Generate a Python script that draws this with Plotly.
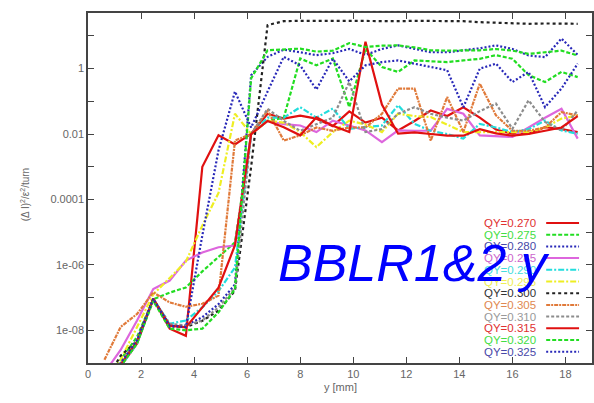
import plotly.graph_objects as go

# x positions (y [mm]) of the scan points
y_mm = [0.62, 1.23, 1.85, 2.46, 3.08, 3.69, 4.31, 4.92, 5.54, 6.15,
        6.77, 7.38, 8.0, 8.61, 9.23, 9.85, 10.46, 11.08, 11.69, 12.31,
        12.92, 13.54, 14.15, 14.77, 15.38, 16.0, 16.61, 17.23, 17.85, 18.46]

series_names = ["QY=0.270", "QY=0.275", "QY=0.280", "QY=0.285", "QY=0.290", "QY=0.295",
                "QY=0.300", "QY=0.305", "QY=0.310", "QY=0.315", "QY=0.320", "QY=0.325"]

# log10 of (dI)^2/eps^2/turn
log_qy270 = [-9.9, -9.1, -8.4, -7.04, -7.95, -8.17, -3.0, -2.04, -2.32, -1.99, -1.38, -1.53, -1.44, -1.53, -1.76,
             -1.31, -1.65, -1.5, -1.89, -1.6, -1.28, -1.45, -1.18, -1.5, -1.86, -1.99, -1.99, -1.79, -1.85, -1.94]
log_qy275 = [-9.5, -8.9, -8.2, -7.05, -6.85, -6.69, -6.2, -5.75, -5.31, -2.0, -1.6, -1.5, 0.31, 0.1, 0.31,
             -1.18, 0.6, 0.05, -0.1, 0.25, 0.22, 0.2, 0.25, 0.3, 0.41, 0.3, -0.2, -0.41, -0.1, -0.26]
log_qy280 = [-9.7, -9.05, -8.35, -7.04, -7.9, -7.85, -7.6, -7.2, -6.6, -0.2, 0.36, 0.58, 0.5, 0.41, 0.47,
             0.6, 0.42, 0.6, 0.71, 0.6, 0.5, 0.5, 0.55, 0.62, 0.71, 0.6, 0.4, 0.35, 0.92, 0.42]
log_qy285 = [-9.3, -8.6, -7.7, -6.74, -6.48, -5.87, -5.62, -5.46, -5.41, -2.0, -1.6, -1.7, -1.74, -1.94, -1.59,
             -1.75, -1.89, -2.25, -1.89, -1.9, -1.9, -1.23, -1.38, -2.04, -2.07, -2.09, -1.8, -1.5, -1.23, -2.14]
log_qy290 = [-9.8, -9.1, -8.4, -7.04, -7.8, -7.7, -7.3, -6.8, -6.08, -2.0, -1.5, -1.5, -1.18, -1.5, -1.22,
             -1.84, -1.8, -1.74, -1.12, -1.69, -1.9, -2.0, -2.14, -1.69, -1.8, -1.94, -1.85, -1.59, -1.89, -1.99]
log_qy295 = [-9.5, -8.9, -7.9, -6.9, -6.4, -5.9, -4.8, -3.8, -1.38, -2.0, -1.6, -1.65, -1.94, -2.4, -1.94,
             -1.59, -1.71, -1.94, -1.38, -1.45, -1.48, -1.7, -1.94, -1.94, -1.94, -1.94, -1.94, -1.8, -1.53, -1.43]
log_qy300 = [-9.6, -8.78, -8.33, -7.04, -7.86, -7.9, -7.71, -7.4, -6.79, -3.0, 1.33, 1.45, 1.46, 1.45, 1.46,
             1.46, 1.45, 1.46, 1.45, 1.46, 1.46, 1.45, 1.45, 1.42, 1.4, 1.38, 1.37, 1.38, 1.37, 1.37]
log_qy305 = [-8.9, -7.9, -7.5, -6.84, -7.15, -7.28, -7.19, -6.94, -2.2, -2.0, -1.28, -2.2, -2.04, -1.8, -1.9,
             -1.8, -1.8, -1.38, -0.61, -0.61, -2.2, -0.87, -1.94, -0.46, -1.43, -1.9, -1.9, -1.8, -1.33, -1.43]
log_qy310 = [-9.7, -9.0, -8.3, -7.04, -7.8, -7.85, -7.7, -7.3, -6.7, -2.0, -1.23, -1.6, -1.9, -1.7, -1.5,
             -0.41, -1.94, -1.85, -1.38, -1.18, -1.38, -1.5, -1.59, -1.3, -1.07, -1.84, -0.97, -1.63, -1.89, -1.28]
log_qy315 = [-9.8, -9.05, -8.35, -7.04, -7.86, -7.91, -7.3, -6.7, -5.4, -2.0, -1.6, -1.79, -2.04, -1.49, -1.75,
             -1.94, 0.82, -1.1, -1.99, -1.95, -2.0, -2.05, -2.05, -1.85, -1.98, -2.05, -2.0, -1.9, -1.8, -1.45]
log_qy320 = [-9.7, -9.1, -8.4, -7.1, -7.95, -8.0, -7.95, -7.45, -6.74, -0.3, 0.56, 0.58, 0.61, 0.52, 0.55,
             0.78, 0.66, 0.7, 0.71, 0.65, 0.56, 0.55, 0.55, 0.56, 0.6, 0.55, 0.45, 0.5, 0.55, 0.4]
log_qy325 = [-9.6, -9.0, -8.3, -7.04, -7.86, -7.9, -5.1, -2.5, -0.7, -1.8, -0.7, 0.36, 0.1, -0.64, 0.3,
             -0.39, 0.1, 0.2, 0.25, 0.15, 0.05, -0.05, -1.18, 0.0, 0.15, -0.41, -0.1, -1.18, -0.61, 0.15]

all_logs = [log_qy270, log_qy275, log_qy280, log_qy285, log_qy290, log_qy295,
            log_qy300, log_qy305, log_qy310, log_qy315, log_qy320, log_qy325]

line_colors = ["#e01010", "#22dd22", "#2828b8", "#dd66dd", "#22dddd", "#eeee22",
               "#222222", "#e07a3a", "#8c8c8c", "#e01010", "#22dd22", "#2828b8"]
text_colors = ["#e03030", "#44dd44", "#4848a8", "#cc66cc", "#44dddd", "#eeee55",
               "#333333", "#e08850", "#999999", "#e03030", "#44dd44", "#4848a8"]
dashes = ["solid", "4px,2px", "2px,2px", "solid", "6px,2px,2px,2px", "6px,2px,2px,2px",
          "3px,3px", "4px,1px,2px,1px", "3px,2px", "solid", "4px,2px", "2px,2px"]

fig = go.Figure()
for name, lg, col, dsh in zip(series_names, all_logs, line_colors, dashes):
    fig.add_trace(go.Scatter(
        x=y_mm, y=[10 ** v for v in lg], mode="lines", name=name,
        line=dict(color=col, width=2.2, dash=dsh), showlegend=False))

# manual legend (text left of sample, as in the reference)
L, R, T, B = 88, 594, 13, 363
W, H = R - L, B - T
for i, (name, tc, col, dsh) in enumerate(zip(series_names, text_colors, line_colors, dashes)):
    yrow = 223 + 11.7 * i
    yp = (B - yrow) / H
    fig.add_annotation(x=(540 - L) / W, y=yp, xref="paper", yref="paper", text=name,
                       showarrow=False, xanchor="right", yanchor="middle",
                       font=dict(family="Liberation Sans, Arial", size=11.5, color=tc))
    fig.add_shape(type="line", xref="paper", yref="paper",
                  x0=(548 - L) / W, x1=(581 - L) / W, y0=yp, y1=yp,
                  line=dict(color=col, width=2, dash=dsh))

fig.add_annotation(x=(277 - L) / W, y=(B - 263) / H, xref="paper", yref="paper",
                   text="<i>BBLR1&amp;2 y</i>", showarrow=False, xanchor="left", yanchor="middle",
                   font=dict(family="Liberation Sans, Arial", size=52, color="#0000ff"))

fig.add_annotation(x=(25 - L) / W, y=(B - 195) / H, xref="paper", yref="paper",
                   text="(\u0394 I)<sup>2</sup>/\u03b5<sup>2</sup>/turn", textangle=-90,
                   showarrow=False, xanchor="center", yanchor="middle",
                   font=dict(family="Liberation Sans, Arial", size=10, color="#666666"))
fig.add_annotation(x=0.5, y=(B - 387) / H, xref="paper", yref="paper", text="y [mm]",
                   showarrow=False, xanchor="center", yanchor="middle",
                   font=dict(family="Liberation Sans, Arial", size=11, color="#666666"))

ytick_vals = [1e-8, 1e-6, 1e-4, 1e-2, 1]
ytick_text = ["1e-08", "1e-06", "0.0001", "0.01", "1"]
ytick_minor = [1e-9, 1e-7, 1e-5, 1e-3, 1e-1, 10]
xtick_vals = [0, 2, 4, 6, 8, 10, 12, 14, 16, 18]

fig.update_layout(
    width=594, height=403, margin=dict(l=L, r=0, t=T, b=403 - B),
    paper_bgcolor="white", plot_bgcolor="white", showlegend=False,
    font=dict(family="Liberation Sans, Arial", color="#666666", size=11),
    xaxis=dict(range=[0, 19], tickvals=xtick_vals, ticks="inside", ticklen=6, tickwidth=1.2,
               tickcolor="#444444", showline=True, linecolor="#444444", linewidth=1.5,
               mirror="ticks", showgrid=False, zeroline=False,
               tickfont=dict(size=11, color="#666666")),
    yaxis=dict(type="log", range=[-9, 1.7], tickvals=ytick_vals, ticktext=ytick_text,
               ticks="inside", ticklen=6, tickwidth=1.2, tickcolor="#444444",
               minor=dict(tickmode="array", tickvals=ytick_minor, ticks="inside", ticklen=6,
                          tickwidth=1.2, tickcolor="#444444", showgrid=False),
               showline=True, linecolor="#444444", linewidth=1.5, mirror="ticks",
               showgrid=False, zeroline=False, tickfont=dict(size=11, color="#666666")),
)

fig.write_html("out.html")
